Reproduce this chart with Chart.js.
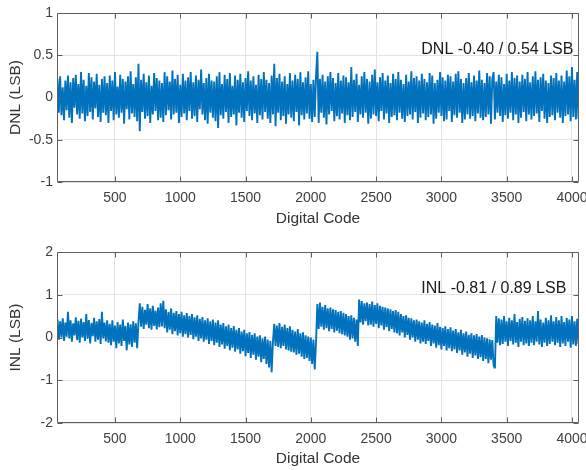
<!DOCTYPE html>
<html><head><meta charset="utf-8">
<script src="https://cdn.jsdelivr.net/npm/chart.js@4.4.0/dist/chart.umd.min.js"></script>
<style>
html,body{margin:0;padding:0;background:#fff;width:586px;height:470px;overflow:hidden}
.c{position:absolute;left:0;width:586px;height:235px}
</style></head><body>
<div class="c" style="top:0"><canvas id="dnl" width="586" height="235"></canvas></div>
<div class="c" style="top:235px"><canvas id="inl" width="586" height="235"></canvas></div>
<script>
// ---- data ----
const FIRST_CODE = 60, CODE_STEP = 10;          // digital code of first sample, spacing between samples
const X_MIN = 56, X_MAX = 4054;
const X_TICKS = [500, 1000, 1500, 2000, 2500, 3000, 3500, 4000];
const DNL_TICKS = [-1, -0.5, 0, 0.5, 1];
const INL_TICKS = [-2, -1, 0, 1, 2];
const X_LABEL = 'Digital Code';
const DNL_AXIS = 'DNL (LSB)';
const INL_AXIS = 'INL (LSB)';
const DNL_NOTE = 'DNL -0.40 / 0.54 LSB';
const INL_NOTE = 'INL -0.81 / 0.89 LSB';

const DNL = [
0.22,-0.18,0.25,-0.21,0.12,-0.27,0.2,-0.15,0.26,-0.24,0.18,-0.3,0.23,-0.12,0.27,-0.2,0.16,-0.25,0.3,-0.19,
0.21,-0.28,0.14,-0.22,0.29,-0.17,0.24,-0.26,0.19,-0.13,0.28,-0.23,0.15,-0.29,0.22,-0.18,0.25,-0.21,0.17,-0.3,
0.26,-0.16,0.2,-0.27,0.3,-0.2,0.13,-0.24,0.27,-0.18,0.22,-0.31,0.19,-0.14,0.25,-0.26,0.31,-0.19,0.16,-0.23,
0.24,-0.28,0.4,-0.4,0.21,-0.17,0.28,-0.25,0.18,-0.22,0.26,-0.3,0.14,-0.2,0.29,-0.16,0.23,-0.27,0.2,-0.24,
0.17,-0.29,0.3,-0.21,0.25,-0.15,0.19,-0.26,0.32,-0.2,0.22,-0.18,0.27,-0.3,0.15,-0.23,0.28,-0.19,0.2,-0.27,
0.24,-0.16,0.3,-0.25,0.18,-0.22,0.26,-0.29,0.21,-0.14,0.33,-0.2,0.17,-0.27,0.23,-0.31,0.28,-0.18,0.2,-0.24,
0.19,-0.28,0.25,-0.36,0.3,-0.21,0.16,-0.25,0.27,-0.17,0.22,-0.3,0.29,-0.23,0.14,-0.2,0.26,-0.33,0.21,-0.18,
0.28,-0.24,0.18,-0.29,0.23,-0.16,0.31,-0.22,0.2,-0.27,0.25,-0.19,0.15,-0.3,0.27,-0.21,0.22,-0.26,0.3,-0.17,
0.21,-0.25,0.17,-0.3,0.26,-0.2,0.4,-0.34,0.23,-0.18,0.28,-0.27,0.19,-0.22,0.25,-0.31,0.16,-0.2,0.29,-0.24,
0.2,-0.28,0.27,-0.17,0.22,-0.33,0.3,-0.21,0.18,-0.26,0.24,-0.19,0.31,-0.25,0.16,-0.29,0.21,-0.23,0.26,0.54,
-0.3,0.22,-0.18,0.27,-0.24,0.19,-0.32,0.25,-0.2,0.3,-0.16,0.23,-0.28,0.17,-0.22,0.29,-0.26,0.2,-0.19,0.26,
-0.3,0.24,-0.21,0.18,-0.27,0.36,-0.23,0.21,-0.17,0.28,-0.29,0.15,-0.2,0.25,-0.24,0.3,-0.18,0.22,-0.31,0.19,
-0.25,0.27,-0.2,0.33,-0.22,0.18,-0.28,0.24,-0.16,0.29,-0.26,0.2,-0.19,0.26,-0.3,0.17,-0.23,0.28,-0.21,0.22,
-0.27,0.3,-0.18,0.21,-0.25,0.16,-0.29,0.27,-0.22,0.19,-0.2,0.31,-0.26,0.23,-0.17,0.25,-0.3,0.2,-0.24,0.28,
-0.19,0.22,-0.27,0.18,-0.23,0.29,-0.2,0.26,-0.31,0.17,-0.25,0.21,-0.18,0.3,-0.22,0.24,-0.28,0.2,-0.26,0.27,
-0.16,0.25,-0.29,0.19,-0.21,0.28,-0.24,0.31,-0.18,0.22,-0.3,0.17,-0.26,0.23,-0.2,0.29,-0.25,0.18,-0.22,0.26,
-0.28,0.2,-0.19,0.32,-0.24,0.21,-0.27,0.17,-0.23,0.29,-0.2,0.25,-0.31,0.22,0.3,-0.26,0.19,-0.18,0.27,-0.22,
0.24,-0.29,0.16,-0.21,0.28,-0.25,0.2,-0.18,0.3,-0.27,0.23,-0.2,0.26,-0.3,0.19,-0.24,0.27,-0.17,0.22,-0.28,
0.3,-0.2,0.18,-0.26,0.25,-0.22,0.31,-0.19,0.21,-0.29,0.24,-0.16,0.28,-0.25,0.2,-0.3,0.17,-0.23,0.26,-0.21,
0.23,-0.27,0.29,-0.18,0.2,-0.24,0.26,-0.3,0.19,-0.22,0.32,-0.2,0.25,-0.28,0.36,-0.23,0.21,-0.26,0.3,-0.25
];

const INL = [
0.42,-0.05,0.38,0.0,0.45,-0.08,0.35,0.02,0.6,-0.02,0.4,-0.1,0.33,0.05,0.47,-0.06,0.39,-0.12,0.44,0.0,
0.36,-0.08,0.55,-0.03,0.41,-0.14,0.34,0.03,0.46,-0.1,0.38,-0.05,0.43,-0.15,0.6,-0.02,0.35,-0.09,0.4,-0.12,
0.32,-0.18,0.4,-0.1,0.28,-0.25,0.36,-0.14,0.3,-0.2,0.42,-0.08,0.27,-0.3,0.35,-0.16,0.31,-0.22,0.38,-0.12,
0.33,-0.25,0.36,0.8,0.25,0.72,0.2,0.65,0.3,0.78,0.22,0.68,0.18,0.74,0.27,0.63,0.19,0.7,0.24,0.8,
0.26,0.86,0.22,0.66,0.12,0.6,0.18,0.68,0.08,0.58,0.15,0.62,0.05,0.55,0.1,0.6,0.02,0.52,0.08,0.57,
0.0,0.5,0.06,0.55,-0.04,0.47,0.02,0.52,-0.08,0.44,-0.02,0.48,-0.1,0.4,-0.05,0.45,-0.15,0.38,-0.08,0.42,
-0.18,0.35,-0.12,0.4,-0.22,0.3,-0.16,0.34,-0.26,0.26,-0.2,0.3,-0.3,0.22,-0.24,0.27,-0.33,0.18,-0.28,0.22,
-0.38,0.14,-0.32,0.18,-0.44,0.1,-0.36,0.13,-0.48,0.06,-0.4,0.1,-0.52,0.02,-0.45,0.05,-0.58,-0.02,-0.5,0.02,
-0.62,-0.05,-0.7,-0.08,-0.81,-0.1,0.32,-0.2,0.28,-0.22,0.34,-0.25,0.25,-0.2,0.3,-0.28,0.22,-0.3,0.26,-0.33,
0.18,-0.35,0.14,-0.4,0.2,-0.38,0.1,-0.45,0.12,-0.5,0.05,-0.48,0.02,-0.55,0.0,-0.62,-0.05,-0.75,-0.1,0.78,
0.2,0.82,0.25,0.72,0.18,0.76,0.22,0.68,0.15,0.7,0.2,0.66,0.12,0.64,0.16,0.6,0.1,0.62,0.08,0.58,
0.05,0.55,0.02,0.5,-0.05,0.52,-0.02,0.46,-0.1,0.42,-0.2,0.89,0.35,0.85,0.3,0.8,0.38,0.82,0.28,0.78,
0.3,0.84,0.25,0.76,0.32,0.8,0.22,0.74,0.28,0.72,0.18,0.7,0.24,0.68,0.15,0.66,0.2,0.62,0.12,0.64,
0.1,0.6,0.05,0.55,0.12,0.5,0.0,0.52,0.06,0.46,-0.05,0.45,0.0,0.4,-0.1,0.42,-0.05,0.38,-0.14,0.35,
-0.1,0.4,-0.15,0.32,-0.08,0.36,-0.2,0.3,-0.14,0.28,-0.24,0.34,-0.18,0.25,-0.28,0.22,-0.2,0.26,-0.3,0.2,
-0.25,0.24,-0.32,0.16,-0.28,0.2,-0.36,0.12,-0.3,0.18,-0.4,0.1,-0.35,0.14,-0.45,0.06,-0.38,0.1,-0.48,0.05,
-0.42,0.08,-0.5,0.02,-0.46,0.06,-0.55,0.0,-0.5,-0.02,-0.6,-0.04,-0.52,-0.06,-0.65,-0.72,0.5,-0.12,0.45,-0.18,
0.42,-0.15,0.5,-0.1,0.38,-0.2,0.46,-0.08,0.4,-0.16,0.55,-0.12,0.36,-0.22,0.44,-0.1,0.48,-0.18,0.39,-0.14,
0.45,-0.2,0.4,-0.12,0.5,-0.18,0.38,-0.1,0.62,-0.16,0.42,-0.22,0.35,-0.12,0.46,-0.2,0.4,-0.15,0.52,-0.1,
0.38,-0.18,0.48,-0.12,0.4,-0.22,0.5,-0.14,0.36,-0.2,0.46,-0.1,0.42,-0.24,0.5,-0.16,0.38,-0.2,0.44,-0.15
];

// ---- drawing ----
const FONT = '"Liberation Sans", Arial, Helvetica, sans-serif';
const LINE_COLOR = '#0072BD';

function toPoints(vals){ return vals.map((v,i)=>({x: FIRST_CODE + i*CODE_STEP, y: v})); }

const boxPlugin = {
  id: 'box',
  afterDraw(chart, args, opts){
    const {ctx, chartArea: a, scales: {x, y}} = chart;
    ctx.save();
    ctx.strokeStyle = '#5e5e5e';
    ctx.lineWidth = 1;
    const L = Math.round(a.left)+0.5, R = Math.round(a.right)-0.5, T = Math.round(a.top)+0.5, B = Math.round(a.bottom)-0.5;
    ctx.beginPath();
    ctx.rect(L, T, R-L, B-T);
    const tl = 5;
    x.ticks.forEach(t=>{
      const p = Math.round(x.getPixelForValue(t.value))+0.5;
      ctx.moveTo(p, B); ctx.lineTo(p, B-tl);
      ctx.moveTo(p, T); ctx.lineTo(p, T+tl);
    });
    y.ticks.forEach(t=>{
      const p = Math.round(y.getPixelForValue(t.value))+0.5;
      ctx.moveTo(L, p); ctx.lineTo(L+tl, p);
      ctx.moveTo(R, p); ctx.lineTo(R-tl, p);
    });
    ctx.stroke();
    // annotation
    ctx.fillStyle = '#1a1a1a';
    ctx.font = '16px ' + FONT;
    ctx.textAlign = 'right';
    ctx.textBaseline = 'alphabetic';
    ctx.fillText(opts.text, x.getPixelForValue(opts.x), y.getPixelForValue(opts.y));
    ctx.restore();
  }
};

function makeChart(id, vals, yTicks, yTitle, note, noteX, noteY, padTop, xAxisH, xTitlePad){
  new Chart(document.getElementById(id), {
    type: 'line',
    data: { datasets: [{ data: toPoints(vals), borderColor: LINE_COLOR, borderWidth: 1.9, borderJoinStyle: 'bevel', pointRadius: 0, tension: 0, fill: false }] },
    options: {
      responsive: false, animation: false, parsing: false,
      events: [],
      layout: { padding: { top: padTop, right: 7, bottom: 0, left: 0 } },
      plugins: { legend: { display: false }, tooltip: { enabled: false }, box: { text: note, x: noteX, y: noteY } },
      scales: {
        x: {
          type: 'linear', min: X_MIN, max: X_MAX,
          afterBuildTicks: s => { s.ticks = X_TICKS.map(v=>({value: v})); },
          afterFit: s => { s.height = xAxisH; s.paddingLeft = 0; s.paddingRight = 0; },
          grid: { color: '#e3e3e3', drawTicks: false },
          border: { display: false },
          ticks: { padding: 8, color: '#404040', font: { family: FONT, size: 14 }, maxRotation: 0, autoSkip: false, callback: v => String(v) },
          title: { display: true, text: X_LABEL, color: '#333333', font: { family: FONT, size: 15.5 }, padding: { top: 0, bottom: xTitlePad } }
        },
        y: {
          type: 'linear', min: yTicks[0], max: yTicks[yTicks.length-1],
          afterBuildTicks: s => { s.ticks = yTicks.map(v=>({value: v})); },
          afterFit: s => { s.width = 57; s.paddingTop = 0; s.paddingBottom = 0; },
          grid: { color: '#e3e3e3', drawTicks: false },
          border: { display: false },
          ticks: { padding: 4, color: '#404040', font: { family: FONT, size: 14 }, callback: v => String(v) },
          title: { display: true, text: yTitle, color: '#333333', font: { family: FONT, size: 15.5 }, padding: { top: 6, bottom: 0 } }
        }
      }
    },
    plugins: [boxPlugin]
  });
}

makeChart('dnl', DNL, DNL_TICKS, DNL_AXIS, DNL_NOTE, 4011, 0.513, 13, 53, 6.7);
makeChart('inl', INL, INL_TICKS, INL_AXIS, INL_NOTE, 3957, 1.04, 17, 47, 1.7);
</script>
</body></html>
